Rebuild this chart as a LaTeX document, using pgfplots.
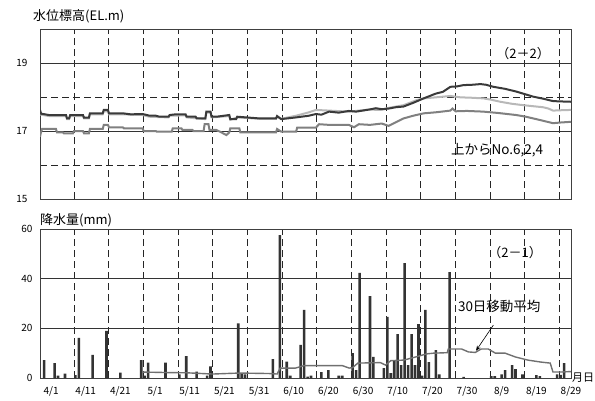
\documentclass[border=0pt]{standalone}
\usepackage{pgfplots}
\pgfplotsset{compat=1.18}
\usepackage{fontspec}
\setmainfont{Noto Sans CJK JP}
\usetikzlibrary{arrows.meta}
\definecolor{cdark}{HTML}{3A3A3A}
\definecolor{clight}{HTML}{B8B8B8}
\definecolor{cmed}{HTML}{808080}
\definecolor{cbar}{HTML}{333333}
\definecolor{cma}{HTML}{707070}
\pgfplotsset{mystyle/.style={
  scale only axis, width=531pt, xmin=-3.2, xmax=150,
  axis line style={draw=black!75, line width=0.8pt},
  major tick length=0pt, minor tick length=0pt,
  tick label style={font=\fontsize{10}{12}\selectfont},
  /pgf/number format/assume math mode=true,
  clip mode=individual,
  xtick={0,10,20,30,40,50,60,70,80,90,100,110,120,130,140,150},
  ymajorgrids, major grid style={black!80, line width=0.6pt},
  minor xtick={6.6,16.6,26.6,36.6,46.6,56.6,66.6,76.6,86.6,96.6,106.6,116.6,126.6,136.6,146.6},
  xminorgrids,
  minor grid style={dash pattern=on 7pt off 4pt, black!85, line width=0.6pt},
}}
\begin{document}
\begin{tikzpicture}
\path[use as bounding box] (0pt,0pt) rectangle (595pt,-400pt);
% ---------- top panel ----------
\begin{axis}[mystyle, at={(40pt,-199pt)}, anchor=south west, height=170pt,
  ymin=15, ymax=20, ytick={15,17,19}, xticklabels={},
  minor ytick={16,18}, yminorgrids,
  yticklabel style={xshift=-9pt}]
\addplot[clight, line width=2pt] coordinates {
(-3.2,17.58) (-2.9,17.48) (-0.6,17.44) (4.3,17.44) (4.6,17.35) (5.2,17.35) (5.5,17.44) (9.2,17.44) (9.5,17.37) (10.9,17.37) (11.2,17.49) (14.9,17.49) (15.2,17.58) (16.4,17.58) (16.7,17.49) (20.7,17.49) (26.4,17.47) (28.4,17.42) (33.9,17.40) (34.2,17.45) (38.8,17.46) (39.1,17.40) (44.5,17.35) (44.8,17.54) (46.0,17.54) (46.3,17.40) (51.4,17.44) (51.7,17.33) (53.7,17.40) (60.1,17.36) (64.9,17.36) (65.2,17.42) (66.4,17.36) (70.7,17.45) (74.4,17.55) (76.4,17.62) (80.2,17.60) (85.9,17.57) (91.7,17.63) (95,17.62) (97.4,17.68) (101.7,17.76) (105.5,17.91) (107.5,17.96) (111,17.99) (115.2,18.03) (118.1,17.99) (121,17.98) (124.7,17.96) (127,17.92) (129.6,17.86) (133,17.80) (136.2,17.76) (139,17.73) (141.9,17.70) (143.5,17.66) (144.8,17.60) (147,17.61) (150,17.62)};
\addplot[cmed, line width=2pt] coordinates {
(-3.2,16.83) (-3.0,16.93) (-2.6,17.06) (1.4,17.06) (1.7,16.96) (3.4,16.96) (3.7,16.93) (6.3,16.93) (6.6,17.0) (9.2,17.0) (9.5,16.93) (10.9,16.93) (11.2,17.06) (14.9,17.06) (15.2,17.18) (16.4,17.18) (16.7,17.11) (20.7,17.11) (21.0,17.08) (26.4,17.08) (26.7,17.0) (30.2,17.0) (30.5,16.98) (34.8,16.98) (35.1,17.08) (37.6,17.08) (37.9,17.03) (40.8,17.03) (41.1,17.0) (44.0,17.0) (44.3,17.2) (45.4,17.2) (45.7,17.03) (47.7,17.03) (49.1,16.96) (50.6,16.88) (51.4,16.96) (51.7,17.08) (54.3,17.08) (54.6,16.96) (64.9,16.96) (65.2,17.06) (66.4,16.98) (70.7,16.98) (71.0,17.10) (76.4,17.10) (77.3,17.2) (80.2,17.18) (85.9,17.18) (87.4,17.11) (88.8,17.2) (92,17.18) (95.4,17.22) (97.4,17.15) (99.5,17.26) (101.7,17.37) (104.5,17.45) (107.5,17.52) (111,17.55) (115.2,17.60) (115.8,17.66) (116.7,17.58) (120,17.59) (124.7,17.57) (129,17.53) (134.2,17.47) (137,17.42) (139.1,17.37) (142,17.30) (144.8,17.23) (147,17.25) (150,17.27)};
\addplot[cdark, line width=2pt] coordinates {
(-3.2,17.62) (-2.9,17.51) (-0.6,17.47) (4.3,17.47) (4.6,17.37) (5.2,17.37) (5.5,17.47) (9.2,17.47) (9.5,17.39) (10.9,17.39) (11.2,17.52) (14.9,17.52) (15.2,17.62) (16.4,17.62) (16.7,17.52) (20.7,17.52) (23,17.49) (26.4,17.50) (28.4,17.45) (30.2,17.45) (31.3,17.42) (33.9,17.42) (34.2,17.47) (35.9,17.49) (38.8,17.49) (39.1,17.42) (41.7,17.42) (42.0,17.37) (44.5,17.37) (44.8,17.57) (46.0,17.57) (46.3,17.42) (47.7,17.42) (51.4,17.47) (51.7,17.35) (53.4,17.35) (53.7,17.42) (56.3,17.40) (60.1,17.37) (64.9,17.37) (65.2,17.44) (66.4,17.35) (70.7,17.40) (74.4,17.45) (76.4,17.50) (78,17.48) (80.2,17.57) (83,17.54) (85.9,17.59) (88,17.57) (91.7,17.63) (93.7,17.67) (95.5,17.64) (97.4,17.66) (99.5,17.70) (101.7,17.72) (104.5,17.83) (107.5,17.96) (111,18.10) (113,18.15) (115.2,18.30) (117,18.31) (119.0,18.35) (121.5,18.36) (123.9,18.38) (125.5,18.36) (127.6,18.30) (131,18.24) (134.2,18.16) (136.5,18.09) (139.1,18.01) (142,17.95) (144.8,17.88) (147,17.87) (150,17.86)};
\node[font=\fontsize{13}{15}\selectfont] at (axis cs:136.2,19.29) {（2－2）};
\node[font=\fontsize{13.5}{15}\selectfont] at (axis cs:128.7,16.44) {上からNo.6,2,4};
\end{axis}
% ---------- bottom panel ----------
\begin{axis}[mystyle, at={(40pt,-378pt)}, anchor=south west, height=149pt,
  ymin=0, ymax=60, ytick={0,20,40,60},
  xticklabels={4/1,4/11,4/21,5/1,5/11,5/21,5/31,6/10,6/20,6/30,7/10,7/20,7/30,8/9,8/19,8/29},
  xticklabel style={yshift=-5pt},
  yticklabel style={xshift=-4pt}]
\addplot[ybar, bar width=2.6pt, bar shift=0pt, fill=cbar, draw=none] coordinates {
(-2,7.2) (1,6.0) (2,1.0) (4,1.8) (7,1.2) (8,16.2) (12,9.3) (16,19.0) (20,2.2) (26,7.2) (27,1.0) (28,6.2) (33,6.2) (37,1.5) (39,8.8) (42,2.6) (45,1.0) (46,4.7) (54,22.0) (55,2.0) (56,1.5) (64,7.6) (66,57.5) (68,6.6) (69,1.0) (72,13.3) (73,27.4) (74,0.6) (75,1.0) (78,2.4) (80,3.2) (83,1.0) (84,1.0) (87,10.0) (88,3.2) (89,42.3) (92,33.0) (93,8.5) (96,4.0) (97,24.6) (98,2.0) (99,7.2) (100,17.7) (101,5.2) (102,46.3) (103,5.2) (104,17.7) (105,5.2) (106,21.7) (107,1.0) (108,27.4) (109,6.4) (111,11.2) (112,1.5) (115,42.6) (119,0.5) (127,0.8) (128,0.8) (130,1.5) (131,3.2) (133,5.2) (134,3.6) (136,1.5) (140,1.2) (141,0.8) (146,1.5) (147,1.3) (148,6.0)};
\addplot[cma, line width=1.4pt] coordinates {
(26.4,2.4) (33.3,2.2) (39.1,2.1) (46.6,1.6) (54.3,2.0) (62.9,1.8) (65.2,1.6) (66.1,4.0) (70.5,4.0) (73,5.0) (84,5.0) (86,4.0) (87,4.2) (88.5,6.0) (95,6.2) (96.5,5.2) (98,7.0) (101.7,7.2) (105,8.4) (108.3,9.7) (110.3,10.0) (114.3,10.2) (114.6,11.7) (118.4,11.7) (120.4,10.5) (122.4,10.3) (124.1,11.7) (126.1,11.7) (128.2,10.0) (131,10.0) (133.9,8.5) (137.6,7.2) (141.4,6.4) (144.0,6.0) (144.8,2.4) (147.1,2.4) (150,2.6)};
\node[font=\fontsize{13}{15}\selectfont] at (axis cs:133.9,50.7) {（2－1）};
\node[font=\fontsize{13.5}{15}\selectfont] at (axis cs:129.3,29) {30日移動平均};
\draw[-{Stealth[length=5pt,width=4pt]}, line width=0.6pt] (axis cs:127.6,21.3) -- (axis cs:122.6,11.0);
\node[anchor=west, inner sep=1pt, font=\fontsize{11}{13}\selectfont] at (rel axis cs:1,0) {月日};
\end{axis}
\node[anchor=west, inner sep=0pt, font=\fontsize{13}{15}\selectfont] at (33pt,-16pt) {水位標高(EL.m)};
\node[anchor=west, inner sep=0pt, font=\fontsize{13}{15}\selectfont] at (40pt,-220pt) {降水量(mm)};
\end{tikzpicture}
\end{document}
